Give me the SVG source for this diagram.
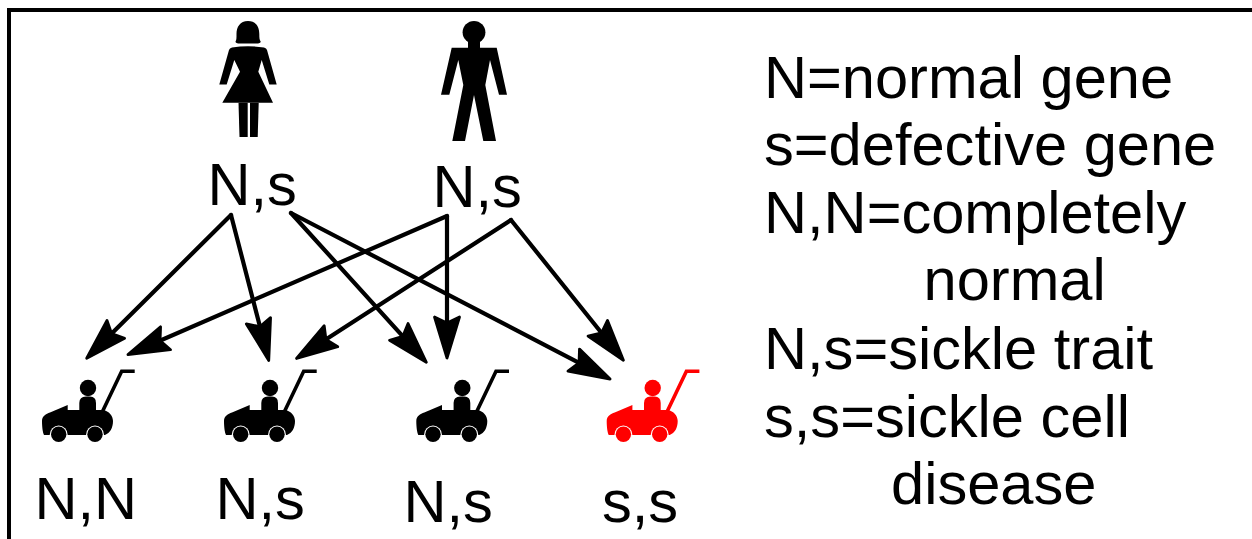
<svg xmlns="http://www.w3.org/2000/svg" width="1252" height="539" viewBox="0 0 1252 539">
<style>
text{font-family:"Liberation Sans",Arial,sans-serif;font-size:59.6px;fill:#000}
.a{fill:none;stroke:#000;stroke-width:4.2;stroke-linecap:round;marker-end:url(#h)}
.frame{fill:none;stroke:#000;stroke-width:4}
</style>
<defs>
<marker id="h" markerUnits="userSpaceOnUse" markerWidth="48" markerHeight="34" refX="34" refY="16" orient="auto" overflow="visible">
<path d="M2,3.5 L43,16 L2,28.5 L8,16 Z" fill="#000" stroke="#000" stroke-width="2.8" stroke-linejoin="round"/>
</marker>
<g id="car">
<path d="M67.7,405 V410 H103 C109,411 113,416 113,421 C113,428 110,433 105,435 H44 C43,433 42,428 42,421 C42,416 46,414 50,412.5 Z"/>
<circle cx="88" cy="388" r="8.2"/>
<path d="M79.3,411 V403 Q79.3,396.5 86,396.5 H90 Q96,396.5 96,403 V411 Z"/>
<path d="M102.7,411 L121.7,371.3 H134.7" fill="none" stroke="currentColor" stroke-width="3.6"/>
<circle cx="58.7" cy="434.5" r="8.9" fill="#fff"/>
<circle cx="95" cy="434.5" r="8.9" fill="#fff"/>
<circle cx="58.7" cy="434.3" r="7.7"/>
<circle cx="95" cy="434.3" r="7.7"/>
</g>
</defs>
<path class="frame" d="M9,539 V10 H1252"/>
<g id="woman">
<path d="M248,21 C240,21 236.5,27 236.5,34 C236.5,38 236.5,40 235.5,41.5 Q235.5,43.5 240,43.5 H256 Q260.7,43.5 260.7,41.5 C259.5,40 259.3,38 259.3,34 C259.3,27 256,21 248,21 Z"/>
<path d="M232,47.5 Q240,46.3 248,46.3 Q256,46.3 264,47.5 Q266.5,48 267,50 L276.7,84.5 H269.3 L261.7,60 L258.3,71.7 L273,102.7 H222.3 L240,71.7 L234.3,60 L226.7,84.5 H219.3 L229,50 Q229.5,48 232,47.5 Z"/>
<path d="M238.5,102.7 H247.7 V137 H239.5 Z"/>
<path d="M250,102.7 H258.7 L257.7,137 H250 Z"/>
</g>
<g id="man">
<circle cx="474" cy="32.3" r="11.4"/>
<path d="M468,42 H480 V48 H468 Z"/>
<path d="M451.7,47.7 H496.7 L507,94.7 H499 L490,60 L485.3,85 L496,141 H483.3 L474,95 L465,141 H452.3 L463.3,85 L458.3,60 L449.3,94.7 H441 Z"/>
</g>
<g id="connectors">
<path class="a" d="M231,215 L93.1,351.9"/>
<path class="a" d="M231,215 L266.5,351.8"/>
<path class="a" d="M291,213 L420.3,355.6"/>
<path class="a" d="M291,213 L602.1,374.9"/>
<path class="a" d="M447,216 L136.2,351"/>
<path class="a" d="M447,216 L447,349"/>
<path class="a" d="M511,220 L304.1,353.6"/>
<path class="a" d="M511,220 L617.8,353.2"/>
</g>
<g id="label-mother"><text x="207.5" y="205">N,s</text></g>
<g id="label-father"><text x="432.5" y="207">N,s</text></g>
<g id="child1" color="#000"><use href="#car"/><text x="34.5" y="519">N,N</text></g>
<g id="child2" color="#000"><use href="#car" x="182"/><text x="215.5" y="519">N,s</text></g>
<g id="child3" color="#000"><use href="#car" x="374.3"/><text x="403.5" y="522">N,s</text></g>
<g id="child4" color="#f00" fill="#f00"><use href="#car" x="564.7"/><text x="602" y="522">s,s</text></g>
<g id="legend">
<text x="764" y="98">N=normal gene</text>
<text x="764" y="165">s=defective gene</text>
<text x="764" y="233">N,N=completely</text>
<text x="923.5" y="300">normal</text>
<text x="764" y="369">N,s=sickle trait</text>
<text x="764" y="437">s,s=sickle cell</text>
<text x="891" y="504">disease</text>
</g>
</svg>
